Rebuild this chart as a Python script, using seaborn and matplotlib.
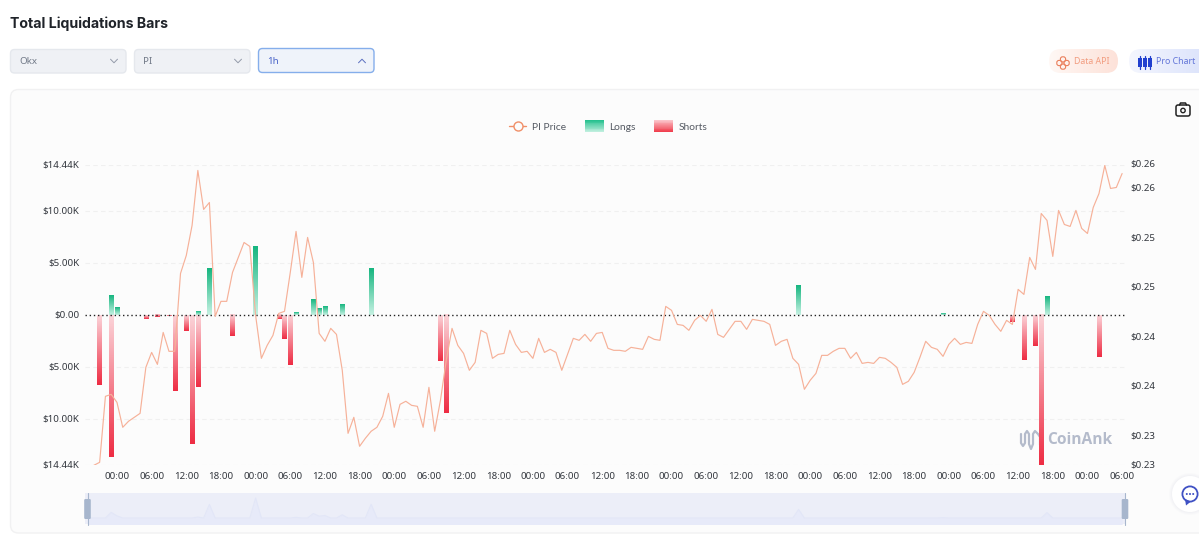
import numpy as np
import pandas as pd
import matplotlib
matplotlib.use("Agg")
import matplotlib.pyplot as plt
import seaborn as sns
from matplotlib.patches import FancyBboxPatch, Rectangle, Circle, Polygon
from matplotlib.lines import Line2D
from matplotlib.legend_handler import HandlerBase
from matplotlib.colors import LinearSegmentedColormap
from matplotlib.transforms import ScaledTranslation

# ---- data ----
price_values = [
 .22707,.22737,.23404,.23424,.23343,.23091,.23152,.23192,.23232,.23697,
 .23848,.23727,.24050,.23859,.23859,.24646,.24828,.25131,.25687,.25293,
 .25363,.24212,.24364,.24364,.24656,.24808,.24959,.24919,.24222,.23788,
 .23919,.24020,.24242,.24263,.24656,.25071,.24606,.25010,.24757,.24040,
 .23960,.24091,.24030,.23667,.23030,.23192,.22899,.22980,.23051,.23091,
 .23202,.23434,.23091,.23323,.23354,.23313,.23303,.23091,.23495,.23051,
 .23364,.23768,.24091,.23919,.23838,.23667,.23747,.24071,.24040,.23788,
 .23828,.23838,.24071,.23929,.23848,.23859,.23788,.23990,.23848,.23879,
 .23848,.23667,.23828,.23990,.23970,.24030,.23960,.24040,.24050,.23889,
 .23869,.23869,.23859,.23899,.23889,.23879,.24010,.23980,.23970,.24313,
 .24273,.24131,.24121,.24071,.24172,.24222,.24162,.24283,.24030,.24000,
 .24081,.24162,.24162,.24081,.24182,.24172,.24162,.24131,.23919,.23960,
 .23980,.23788,.23727,.23475,.23566,.23636,.23818,.23818,.23859,.23889,
 .23889,.23788,.23848,.23737,.23747,.23737,.23798,.23788,.23747,.23697,
 .23525,.23556,.23646,.23798,.23960,.23899,.23879,.23808,.23929,.23990,
 .23929,.23949,.23939,.24131,.24263,.24222,.24131,.24061,.24172,.24131,
 .24485,.24434,.24808,.24687,.25252,.25182,.24818,.25283,.25141,.25121,
 .25283,.25101,.25050,.25313,.25454,.25737,.25505,.25515,.25656]
price_hours = list(range(1, 180))

long_hours = [4, 5, 19, 21, 29, 36, 39, 40, 41, 44, 49, 123, 148, 166]
long_values = [1.85, 0.70, 0.30, 4.45, 6.55, 0.20, 1.47, 0.60, 0.82, 1.05, 4.50, 2.80, 0.10, 1.78]

short_hours = [2, 4, 10, 12, 14, 15, 17, 18, 19, 25, 33, 34, 35, 61, 62, 160, 162, 164, 165, 175]
short_values = [6.70, 13.60, 0.38, 0.20, 0.08, 7.27, 1.50, 12.35, 6.88, 2.05, 0.40, 2.27, 4.77,
                4.38, 9.44, 0.67, 4.29, 2.95, 14.44, 4.03]

left_ticks = [-14.44, -10, -5, 0, 5, 10, 14.44]
left_labels = ["$14.44K", "$10.00K", "$5.00K", "$0.00", "$5.00K", "$10.00K", "$14.44K"]
right_ticks = [0.22707, 0.230, 0.235, 0.240, 0.245, 0.250, 0.255, 0.25745]
right_labels = ["$0.23", "$0.23", "$0.24", "$0.24", "$0.25", "$0.25", "$0.26", "$0.26"]
hour_ticks = list(range(5, 180, 6))
hour_labels = (["00:00", "06:00", "12:00", "18:00"] * 8)[:len(hour_ticks)]

# ---- style ----
W, H = 1199, 543
sns.set_theme(style="white")
FONT = ["Noto Sans", "DejaVu Sans"]
plt.rcParams["font.family"] = FONT
fig = plt.figure(figsize=(W / 100, H / 100), dpi=100, facecolor="white")

def px_axes(x0, y_top, x1, y_bottom, **kw):
    return fig.add_axes([x0 / W, 1 - y_bottom / H, (x1 - x0) / W, (y_bottom - y_top) / H], **kw)

def overlay(z):
    a = fig.add_axes([0, 0, 1, 1], zorder=z)
    a.set_xlim(0, W); a.set_ylim(H, 0); a.axis("off"); a.patch.set_alpha(0)
    return a

# ---- page furniture, in pixel coordinates ----
ui = overlay(0)

def rbox(x0, y0, x1, y1, r, fc, ec="none", lw=1, zorder=1, on=None):
    p = FancyBboxPatch((x0 + r, y0 + r), x1 - x0 - 2 * r, y1 - y0 - 2 * r,
                       boxstyle=f"round,pad={r},rounding_size={r}", fc=fc, ec=ec, lw=lw, zorder=zorder)
    (on or ui).add_patch(p)
    return p

def hgrad(x0, y0, x1, y1, r, c0, c1):
    p = rbox(x0, y0, x1, y1, r, "none")
    cmap = LinearSegmentedColormap.from_list("g", [c0, c1])
    im = ui.imshow(np.linspace(0, 1, 64)[None, :], cmap=cmap, extent=(x0, x1, y1, y0), aspect="auto", zorder=1)
    im.set_clip_path(p)

def chevron(cx, cy, up=False, c="#949baa"):
    s = -1 if up else 1
    ui.plot([cx - 3.5, cx, cx + 3.5], [cy - 1.8 * s, cy + 1.8 * s, cy - 1.8 * s], color=c, lw=0.7, zorder=3)

ui.text(10, 23.5, "Total Liquidations Bars", fontsize=10.2, fontweight="bold", color="#1f2329",
        family=["Inter", "DejaVu Sans"], va="center", ha="left")

rbox(10.5, 49.5, 126, 73, 4, "#eff1f5", "#e5e8ed")
ui.text(19, 61.5, "Okx", fontsize=7, color="#727a88", va="center")
chevron(114, 61)
rbox(134.5, 49.5, 250, 73, 4, "#eff1f5", "#e5e8ed")
ui.text(143.5, 61.5, "PI", fontsize=7, color="#727a88", va="center")
chevron(238, 61)
rbox(258.5, 48.5, 374, 72.5, 4, "#eff3fa", "#85aeeb", lw=1.0)
ui.text(267.5, 61, "1h", fontsize=7, color="#4a64c9", va="center", fontweight="bold")
chevron(362, 61, up=True, c="#5b6fc0")

hgrad(1049, 49, 1118, 73, 12, "#fff8f5", "#fde2d9")
ui.text(1074, 62, "Data API", fontsize=6.3, color="#f29d80", va="center")
for dx, dy in [(-3.6, 0), (3.6, 0), (0, -3.6), (0, 3.6)]:
    ui.add_patch(FancyBboxPatch((1063 + dx - 2.6, 63 + dy - 2.6), 5.2, 5.2,
                                boxstyle="round,pad=0,rounding_size=2.2", fc="none", ec="#ea7f5c", lw=0.8, zorder=3))
hgrad(1129, 49, 1215, 73, 12, "#f4f6fe", "#d9e1fb")
ui.text(1156, 62, "Pro Chart", fontsize=6.3, color="#6275d8", va="center")
for cx in (1140, 1145, 1149.5):
    ui.plot([cx, cx], [56, 69], color="#2140cf", lw=0.9, zorder=3)
    ui.add_patch(Rectangle((cx - 2, 58), 4, 8.5, fc="#2140cf", ec="none", zorder=3))

rbox(10.5, 89.5, 1215, 533, 8, "#fcfcfc", "#f1f1f2")

# camera icon
rbox(1176, 105, 1190, 116, 2, "none", "#222222", lw=1.1, zorder=3)
ui.plot([1179.5, 1180.5, 1185.5, 1186.5], [105, 103, 103, 105], color="#222222", lw=1.1, zorder=3)
ui.add_patch(Circle((1183, 110.5), 2.2, fc="none", ec="#222222", lw=1.0, zorder=3))

# chat bubble
for r, a in [(21, .05), (20, .06), (19, .08)]:
    ui.add_patch(Circle((1190, 494), r, fc="#c9cedb", alpha=a, ec="none", zorder=2))
ui.add_patch(Circle((1190, 494), 18, fc="white", ec="none", zorder=3))
ui.add_patch(Circle((1190, 494), 7.6, fc="none", ec="#3f51c4", lw=1.3, zorder=4))
ui.add_patch(Polygon([[1185, 499], [1186, 505.5], [1191, 501.5]], fc="#3f51c4", ec="none", zorder=4))
for dx in (-3.2, 0, 3.2):
    ui.add_patch(Circle((1190 + dx, 494), 1.0, fc="#3f51c4", ec="none", zorder=4))

# watermark
wx = [1021, 1021, 1023, 1025, 1025, 1027, 1029, 1029, 1031, 1033, 1033, 1035, 1038, 1040, 1040]
wy = [434, 443, 446, 443, 434, 431, 434, 444, 449, 444, 434, 431, 434, 437, 445]
ui.plot(wx, wy, color="#b4bbcb", lw=1.6, zorder=1.5)
ui.text(1047, 440, "CoinAnk", fontsize=11.2, fontweight="bold", color="#b4bbcb", va="center", ha="left",
        family=["Open Sans", "DejaVu Sans"], zorder=1.5)

# ---- main chart ----
ax = px_axes(85.2, 164.7, 1125, 465.3, zorder=2)
ax.patch.set_alpha(0)

long_df = pd.DataFrame({"hour": long_hours, "value": long_values})
short_df = pd.DataFrame({"hour": short_hours, "value": [-v for v in short_values]})
sns.barplot(data=long_df, x="hour", y="value", native_scale=True, width=0.75, color="#1cbb87",
            errorbar=None, ax=ax, legend=False)
n1 = len(ax.patches)
sns.barplot(data=short_df, x="hour", y="value", native_scale=True, width=0.75, color="#ef3145",
            errorbar=None, ax=ax, legend=False)
all_bars = list(ax.patches)

green = LinearSegmentedColormap.from_list("green", ["#c5f1e2", "#17b680"])
red = LinearSegmentedColormap.from_list("red", ["#fbd3d8", "#ee2d44"])
for i, b in enumerate(all_bars):
    x0, w, y, h = b.get_x(), b.get_width(), b.get_y(), b.get_height()
    y0, y1 = min(y, y + h), max(y, y + h)
    ramp = np.linspace(0, 1, 64)[:, None]  # row 0 is the top of the image
    if i < n1:
        ax.imshow(ramp[::-1], cmap=green, vmin=0, vmax=1, extent=(x0, x0 + w, y0, y1),
                  aspect="auto", origin="upper", zorder=2)
    else:
        ax.imshow(ramp, cmap=red, vmin=0, vmax=1, extent=(x0, x0 + w, y0, y1),
                  aspect="auto", origin="upper", zorder=2)
    b.set_visible(False)

ax.set_xlim(-0.5, 179.5)
ax.set_ylim(-14.44, 14.44)
ax.set_yticks(left_ticks, left_labels)
ax.set_xticks(hour_ticks, hour_labels)
ax.set_xlabel(""); ax.set_ylabel("")
ax.tick_params(axis="both", length=0, labelsize=7, labelcolor="#33373e")
ax.tick_params(axis="x", pad=5)
ax.tick_params(axis="y", pad=4)
for lab in ax.get_yticklabels():
    lab.set_transform(lab.get_transform() + ScaledTranslation(0, 0.7 / 72, fig.dpi_scale_trans))
for t in left_ticks:
    if t != 0:
        ax.axhline(t, color="#f0f0f0", lw=0.8, ls=(0, (4, 3)), zorder=1)
ax.axhline(0, color="#222222", lw=1.0, ls=(0, (1, 2)), zorder=3)
sns.despine(ax=ax, left=True, bottom=True)
ax.grid(False)

ax2 = ax.twinx()
ax2.set_zorder(3)
ax2.patch.set_alpha(0)
sns.lineplot(x=price_hours, y=price_values, color="#f6b199", lw=0.85, ax=ax2, legend=False,
             errorbar=None, zorder=4)
ax2.set_xlim(-0.5, 179.5)
ax2.set_ylim(0.22707, 0.25745)
ax2.set_yticks(right_ticks, right_labels)
ax2.set_xlabel(""); ax2.set_ylabel("")
ax2.tick_params(axis="y", length=0, labelsize=7, labelcolor="#33373e", pad=4)
for lab in ax2.get_yticklabels():
    lab.set_transform(lab.get_transform() + ScaledTranslation(0, 1.2 / 72, fig.dpi_scale_trans))
ax2.grid(False)
for s in ax2.spines.values():
    s.set_visible(False)

# ---- legend ----
class GradHandler(HandlerBase):
    def __init__(self, c_top, c_bottom):
        super().__init__()
        self.cmap = LinearSegmentedColormap.from_list("h", [c_bottom, c_top])
    def create_artists(self, legend, orig, xd, yd, width, height, fontsize, trans):
        arts = []
        n = 14
        hh = 12 * 0.72
        for k in range(n):
            arts.append(Rectangle((-xd, -yd + height / 2 - hh / 2 + hh * k / n), width, hh / n + 0.1,
                                  fc=self.cmap(k / (n - 1)), ec="none", transform=trans))
        return arts

class LineHandler(HandlerBase):
    def create_artists(self, legend, orig, xd, yd, width, height, fontsize, trans):
        mid = -xd + width / 2
        yc = -yd + height / 2
        ln = Line2D([mid - 6, mid + 6], [yc, yc], color="#f08f68", lw=1.0, transform=trans)
        mk = Line2D([mid], [yc], marker="o", ms=6.5, mfc="#fcfcfc", mec="#f08f68", mew=1.0,
                    ls="none", transform=trans)
        return [ln, mk]

h_line = Line2D([], [])
h_long = Rectangle((0, 0), 1, 1)
h_short = Rectangle((0, 0), 1, 1)
leg = fig.legend([h_line, h_long, h_short], ["PI Price", "Longs", "Shorts"],
                 handler_map={h_line: LineHandler(),
                              h_long: GradHandler("#27c18f", "#bdeedd"),
                              h_short: GradHandler("#fbc3c9", "#f0404f")},
                 loc="center", bbox_to_anchor=(607.5 / W, 1 - 127 / H), bbox_transform=fig.transFigure,
                 ncol=3, frameon=False, handlelength=1.9, handletextpad=0.5, columnspacing=1.75,
                 labelcolor="#555a63", prop={"family": ["Lato", "DejaVu Sans"], "size": 7.4})

# ---- range slider ----
mini = px_axes(85.2, 493, 1125, 524, zorder=1)
mini.set_facecolor("#eceef8")
series = np.zeros(180)
series[long_hours] = long_values
mini.fill_between(np.arange(180), -3, series, color="#e7eaf9", lw=0)
mini.plot(np.arange(180), series, color="#e2e6f7", lw=0.8)
mini.set_xlim(-0.5, 179.5)
mini.set_ylim(-1.97, 8.2)
mini.set_xticks([]); mini.set_yticks([])
for s in mini.spines.values():
    s.set_visible(False)

top = overlay(4)
for xh in (87.5, 1125):
    top.plot([xh, xh], [493, 525], color="#a7b6cd", lw=0.8, zorder=4)
    rbox(xh - 3.3, 499, xh + 3.3, 519, 1.2, "#a7b6cd", zorder=4, on=top)

fig.savefig("out.png", dpi=100)
